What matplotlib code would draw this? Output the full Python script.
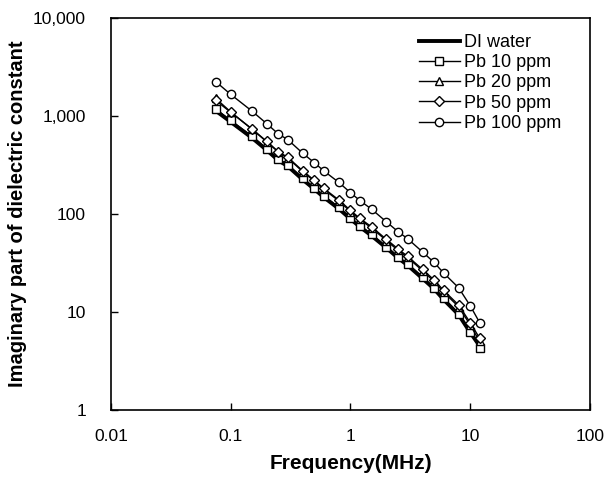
import matplotlib
matplotlib.use("Agg")
import matplotlib.pyplot as plt
from matplotlib.ticker import FixedLocator, FuncFormatter, NullLocator

plt.rcParams['font.family'] = ['Liberation Sans', 'DejaVu Sans']

# frequency in MHz
freq = [0.075, 0.1, 0.15, 0.2, 0.25, 0.3, 0.4, 0.5, 0.6, 0.8, 1,
        1.2, 1.5, 2, 2.5, 3, 4, 5, 6, 8, 10, 12]

di_water = [1130, 870, 600, 448, 352, 307, 224, 179, 148, 113, 89,
            74, 60, 45, 35.6, 30, 22, 17.2, 13.4, 9.4, 6.2, 4.5]
pb10 = [1180, 900, 625, 465, 365, 318, 232, 185, 153, 117, 92,
        76, 62, 46, 36.5, 31, 22.8, 17.7, 13.8, 9.6, 6.3, 4.3]
pb20 = [1510, 1100, 735, 545, 428, 372, 270, 216, 178, 136, 106,
        88, 72, 53.5, 42.5, 36, 26.4, 20.5, 16, 11.3, 7.4, 5.0]
pb50 = [1440, 1090, 740, 550, 432, 378, 275, 220, 182, 139, 109,
        90, 74, 55, 44, 37, 27.2, 21.2, 16.6, 11.8, 7.8, 5.4]
pb100 = [2240, 1660, 1125, 834, 655, 573, 416, 333, 275, 210, 165,
         137, 112, 83, 66, 56, 41, 32, 25, 17.7, 11.6, 7.8]

x_ticks = [0.01, 0.1, 1, 10, 100]
y_ticks = [1, 10, 100, 1000, 10000]

fig = plt.figure(figsize=(6.05, 4.82), dpi=100)
ax = fig.add_axes([0.1835, 0.1494, 0.7915, 0.8133])

ax.plot(freq, di_water, color='black', lw=2.8, label='DI water')
mk = dict(color='black', lw=1, markersize=6, markerfacecolor='white',
          markeredgecolor='black', markeredgewidth=1)
ax.plot(freq, pb10, marker='s', label='Pb 10 ppm', **mk)
ax.plot(freq, pb20, marker='^', label='Pb 20 ppm', **mk)
ax.plot(freq, pb50, marker='D', label='Pb 50 ppm', **dict(mk, markersize=5))
ax.plot(freq, pb100, marker='o', label='Pb 100 ppm', **mk)

ax.set_xscale('log')
ax.set_yscale('log')
ax.set_xlim(0.01, 100)
ax.set_ylim(1, 10000)
ax.xaxis.set_major_locator(FixedLocator(x_ticks))
ax.yaxis.set_major_locator(FixedLocator(y_ticks))
ax.xaxis.set_minor_locator(NullLocator())
ax.yaxis.set_minor_locator(NullLocator())
ax.xaxis.set_major_formatter(FuncFormatter(lambda v, p: '%g' % v))
ax.yaxis.set_major_formatter(FuncFormatter(lambda v, p: '{:,.0f}'.format(v)))
ax.tick_params(direction='in', length=5, width=1, labelsize=12.5)
ax.tick_params(axis='x', pad=14)
ax.tick_params(axis='y', pad=18)
for s in ax.spines.values():
    s.set_linewidth(1.2)

ax.set_xlabel('Frequency(MHz)', fontsize=15, fontweight='bold', labelpad=7)
ax.set_ylabel('Imaginary part of dielectric constant', fontsize=14.5,
              fontweight='bold', labelpad=4)

ax.legend(loc='upper right', frameon=False, fontsize=13, handlelength=2.3,
          handletextpad=0.2, labelspacing=0.18, borderaxespad=0.0,
          bbox_to_anchor=(0.955, 0.978))

fig.savefig('out.png', dpi=100)
